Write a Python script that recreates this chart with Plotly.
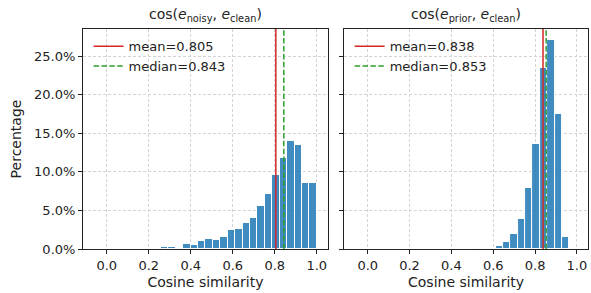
import numpy as np
import plotly.graph_objects as go

# ---- data ----
bin_edges = np.linspace(-0.06, 1.0, 31)
bin_centers = (bin_edges[:-1] + bin_edges[1:]) / 2
bin_width = bin_edges[1] - bin_edges[0]

noisy_pct = [0, 0, 0, 0, 0, 0, 0.03, 0.05, 0.06, 0.22,
             0.22, 0.18, 0.6, 0.55, 1.0, 1.26, 1.13, 1.52, 2.4, 2.56,
             3.4, 4.04, 5.6, 7.12, 9.6, 11.8, 14.0, 13.5, 8.5, 8.55]
prior_pct = [0, 0, 0, 0, 0, 0, 0, 0, 0, 0,
             0, 0, 0, 0, 0, 0, 0.13, 0.05, 0.03, 0.4,
             0.9, 1.9, 3.87, 7.9, 13.6, 23.4, 27.1, 17.5, 1.6, 0]
noisy_mean, noisy_median = 0.805, 0.843
prior_mean, prior_median = 0.838, 0.853
titles = ["cos(<i>e</i><sub>noisy</sub>, <i>e</i><sub>clean</sub>)",
          "cos(<i>e</i><sub>prior</sub>, <i>e</i><sub>clean</sub>)"]
x_ticks = [0.0, 0.2, 0.4, 0.6, 0.8, 1.0]
y_ticks = [0, 5, 10, 15, 20, 25]
y_ticktext = [f"{v:.1f}%" for v in y_ticks]

YMAX = 28.5
XRANGE = [-0.113, 1.053]
BAR_COLOR = "rgba(31,119,180,0.85)"
RED = "#d62728"
GREEN = "#2ca02c"
FONT = "DejaVu Sans"

fig = go.Figure()
panels = [
    (noisy_pct, noisy_mean, noisy_median, "x", "y", "legend"),
    (prior_pct, prior_mean, prior_median, "x2", "y2", "legend2"),
]
for pct, mean, med, xa, ya, lg in panels:
    fig.add_trace(go.Bar(x=bin_centers, y=pct, width=bin_width,
                         marker=dict(color=BAR_COLOR, line=dict(color="white", width=1)),
                         xaxis=xa, yaxis=ya, showlegend=False))
    fig.add_trace(go.Scatter(x=[mean, mean], y=[0, YMAX], mode="lines",
                             line=dict(color=RED, width=1.5),
                             name=f"mean={mean:.3f}", xaxis=xa, yaxis=ya, legend=lg))
    fig.add_trace(go.Scatter(x=[med, med], y=[0, YMAX], mode="lines",
                             line=dict(color=GREEN, width=1.5, dash="5.5px,2.4px"),
                             name=f"median={med:.3f}", xaxis=xa, yaxis=ya, legend=lg))

axis_common = dict(showline=True, linecolor="#222", linewidth=1, mirror=True,
                   ticks="outside", ticklen=4, tickwidth=1, tickcolor="#222",
                   showgrid=True, gridcolor="#d4d4d4", griddash="3px,2px", gridwidth=0.8,
                   zeroline=False, automargin=False,
                   tickfont=dict(family=FONT, size=13, color="#222"))

L_DOM = [0.0, 0.485]
R_DOM = [0.517, 1.0]

fig.update_layout(
    width=591, height=293,
    margin=dict(l=83, r=3, t=29, b=44),
    plot_bgcolor="white", paper_bgcolor="white",
    font=dict(family=FONT, color="#222"),
    bargap=0,
    xaxis=dict(domain=L_DOM, range=XRANGE, tickvals=x_ticks, tickformat=".1f",
               title=dict(text="Cosine similarity", font=dict(family=FONT, size=14), standoff=5),
               **axis_common),
    xaxis2=dict(domain=R_DOM, range=XRANGE, tickvals=x_ticks, tickformat=".1f", anchor="y2",
                title=dict(text="Cosine similarity", font=dict(family=FONT, size=14), standoff=5),
                **axis_common),
    yaxis=dict(range=[0, YMAX], tickvals=y_ticks, ticktext=y_ticktext,
               title=dict(text="Percentage", font=dict(family=FONT, size=14), standoff=9),
               **axis_common),
    yaxis2=dict(range=[0, YMAX], tickvals=y_ticks, showticklabels=False, anchor="x2",
                **axis_common),
    legend=dict(x=0.011, y=0.99, xanchor="left", yanchor="top", bgcolor="rgba(0,0,0,0)",
                font=dict(family=FONT, size=13), tracegroupgap=0, itemwidth=30),
    legend2=dict(x=0.528, y=0.99, xanchor="left", yanchor="top", bgcolor="rgba(0,0,0,0)",
                 font=dict(family=FONT, size=13), tracegroupgap=0, itemwidth=30),
    showlegend=True,
)

for i, t in enumerate(titles):
    dom = L_DOM if i == 0 else R_DOM
    fig.add_annotation(text=t, x=(dom[0] + dom[1]) / 2, y=1.0, xref="paper", yref="paper",
                       xanchor="center", yanchor="bottom", yshift=3, showarrow=False,
                       font=dict(family=FONT, size=14, color="#222"))

fig.write_html("out.html", config={"displayModeBar": False},
               post_script="document.body.style.margin='0';")
